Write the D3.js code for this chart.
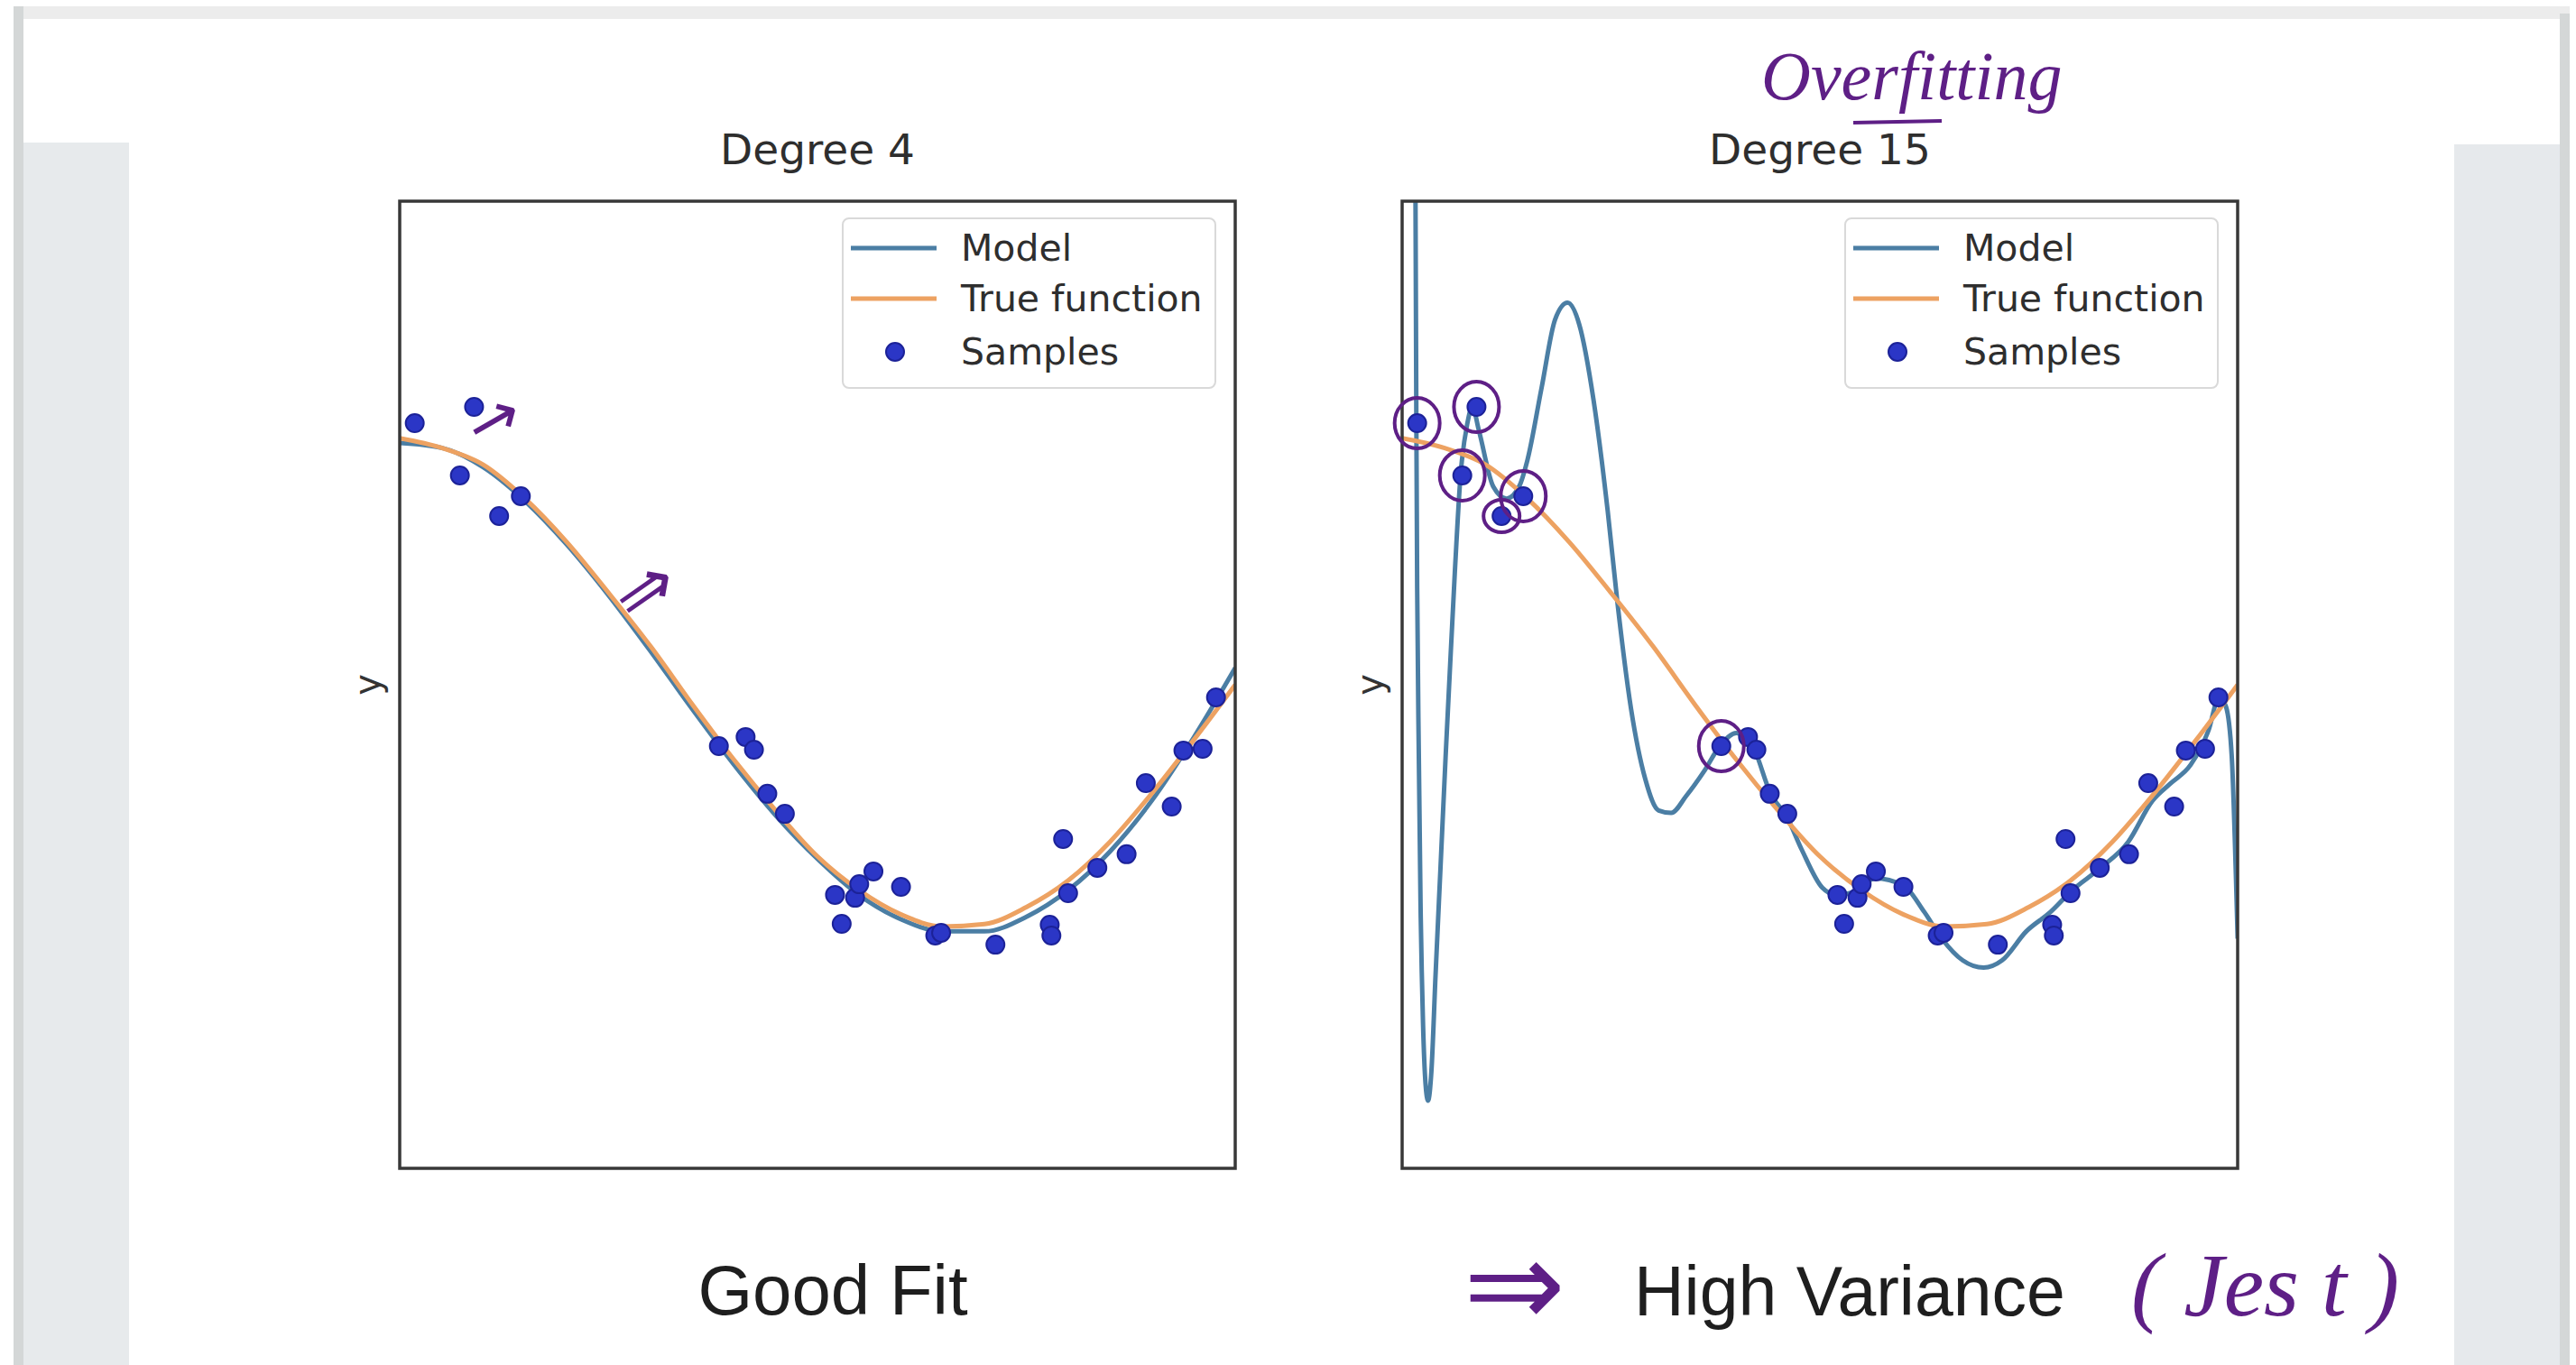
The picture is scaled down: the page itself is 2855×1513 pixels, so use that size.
<!DOCTYPE html>
<html>
<head>
<meta charset="utf-8">
<script src="https://cdn.jsdelivr.net/npm/d3@7"></script>
<style>
  body { margin: 0; background: #fff; }
  svg { display: block; }
</style>
</head>
<body>
<div id="chart"></div>
<script>
// samples (same 30 points in both panels)
var sampleX = [0.018, 0.072, 0.089, 0.119, 0.145, 0.382, 0.414, 0.424, 0.440, 0.461,
               0.521, 0.529, 0.545, 0.550, 0.567, 0.600, 0.641, 0.648, 0.713, 0.778,
               0.780, 0.794, 0.800, 0.835, 0.870, 0.893, 0.924, 0.938, 0.961, 0.977];
var sampleY = [1.082, 0.866, 1.149, 0.698, 0.780, -0.254, -0.216, -0.269, -0.451, -0.534,
               -0.869, -0.989, -0.881, -0.825, -0.772, -0.836, -1.037, -1.026, -1.075, -0.993,
               -1.037, -0.638, -0.862, -0.757, -0.701, -0.407, -0.504, -0.272, -0.265, -0.052];

// true function and degree 4 model, read every 0.05
var curveX = [0, 0.05, 0.1, 0.15, 0.2, 0.25, 0.3, 0.35, 0.4, 0.45, 0.5,
              0.55, 0.6, 0.65, 0.7, 0.75, 0.8, 0.85, 0.9, 0.95, 1.0];
var trueY = [1.02, 0.98, 0.91, 0.77, 0.59, 0.38, 0.16, -0.08, -0.31, -0.52, -0.71,
             -0.85, -0.95, -1.00, -0.99, -0.92, -0.81, -0.65, -0.45, -0.23, 0.00];
var deg4Y = [1.00, 0.98, 0.90, 0.76, 0.58, 0.37, 0.14, -0.10, -0.33, -0.54, -0.72,
             -0.87, -0.97, -1.02, -1.02, -0.96, -0.85, -0.69, -0.48, -0.22, 0.07];

// degree 15 model
var deg15X = [0.012, 0.016, 0.017, 0.018, 0.020, 0.022, 0.025, 0.028, 0.031, 0.035,
              0.040, 0.046, 0.052, 0.057, 0.063, 0.070, 0.078, 0.084, 0.092, 0.109,
              0.125, 0.140, 0.150, 0.167, 0.183, 0.198, 0.212, 0.229, 0.246, 0.258,
              0.274, 0.291, 0.307, 0.322, 0.340, 0.361, 0.381, 0.400, 0.419, 0.441,
              0.461, 0.478, 0.503, 0.520, 0.545, 0.566, 0.600, 0.625, 0.646, 0.671,
              0.696, 0.718, 0.747, 0.776, 0.802, 0.835, 0.869, 0.898, 0.919, 0.944,
              0.965, 0.978, 0.986, 0.993, 0.998, 1.0];
var deg15Y = [3.5, 2.0, 1.1, 0.4, -0.3, -0.9, -1.4, -1.65, -1.72, -1.6,
              -1.2, -0.75, -0.3, 0.05, 0.46, 0.87, 1.08, 1.15, 1.05, 0.82,
              0.77, 0.82, 0.93, 1.23, 1.51, 1.58, 1.49, 1.18, 0.72, 0.33,
              -0.10, -0.39, -0.52, -0.53, -0.46, -0.36, -0.25, -0.20, -0.25, -0.45,
              -0.55, -0.68, -0.84, -0.87, -0.85, -0.80, -0.83, -0.94, -1.05, -1.14,
              -1.17, -1.14, -1.02, -0.94, -0.85, -0.76, -0.65, -0.48, -0.41, -0.33,
              -0.19, -0.05, -0.09, -0.30, -0.80, -1.05];

var titles = ["Degree 4", "Degree 15"];
var captions = ["Good Fit", "High Variance"];
var legendLabels = ["Model", "True function", "Samples"];
var circled = [0, 1, 2, 3, 4, 5];   // samples ringed by hand in the right panel

var W = 2855, H = 1513;
var boxW = 926, boxH = 1072, boxTop = 223;
var boxLeft = [443, 1554];
var modelColor = "#4b7ea4", trueColor = "#eda262", dotColor = "#2b36c6", ink = "#5e1f86";

var svg = d3.select("#chart").append("svg")
    .attr("width", W)
    .attr("height", H);

// page background (slide screenshot)
svg.append("rect").attr("width", W).attr("height", H).attr("fill", "#fff");
svg.append("rect").attr("x", 15).attr("y", 7).attr("width", 2833).attr("height", 14).attr("fill", "#ececec");
svg.append("rect").attr("x", 15).attr("y", 7).attr("width", 11).attr("height", H).attr("fill", "#d4d7d7");
svg.append("rect").attr("x", 26).attr("y", 158).attr("width", 117).attr("height", H).attr("fill", "#e7eaec");
svg.append("rect").attr("x", 2720).attr("y", 160).attr("width", 117).attr("height", H).attr("fill", "#e6e9ec");
svg.append("rect").attr("x", 2837).attr("y", 15).attr("width", 11).attr("height", H).attr("fill", "#d4d7d7");

var x = d3.scaleLinear().domain([0, 1]).range([0, boxW]);
var y = d3.scaleLinear().domain([-2, 2]).range([boxH, 0]);

var line = d3.line()
    .x(function(d) { return x(d[0]); })
    .y(function(d) { return y(d[1]); })
    .curve(d3.curveMonotoneX);

var samples = sampleX.map(function(v, i) { return [v, sampleY[i]]; });
var trueData = curveX.map(function(v, i) { return [v, trueY[i]]; });
var models = [
  curveX.map(function(v, i) { return [v, deg4Y[i]]; }),
  deg15X.map(function(v, i) { return [v, deg15Y[i]]; })
];

[0, 1].forEach(function(p) {
  var g = svg.append("g")
      .attr("transform", "translate(" + boxLeft[p] + "," + boxTop + ")");

  g.append("clipPath").attr("id", "clip" + p)
    .append("rect").attr("width", boxW).attr("height", boxH);

  var plot = g.append("g").attr("clip-path", "url(#clip" + p + ")");

  plot.append("path")
      .datum(models[p])
      .attr("fill", "none")
      .attr("stroke", modelColor)
      .attr("stroke-width", 5)
      .attr("stroke-linejoin", "round")
      .attr("d", line);

  plot.append("path")
      .datum(trueData)
      .attr("fill", "none")
      .attr("stroke", trueColor)
      .attr("stroke-width", 5)
      .attr("stroke-linejoin", "round")
      .attr("d", line);

  plot.selectAll("circle.sample")
      .data(samples)
    .enter().append("circle")
      .attr("class", "sample")
      .attr("cx", function(d) { return x(d[0]); })
      .attr("cy", function(d) { return y(d[1]); })
      .attr("r", 10)
      .attr("fill", dotColor)
      .attr("stroke", "#1c2298")
      .attr("stroke-width", 2);

  // frame
  g.append("rect")
      .attr("width", boxW)
      .attr("height", boxH)
      .attr("fill", "none")
      .attr("stroke", "#383838")
      .attr("stroke-width", 3.5);

  g.append("text")
      .attr("x", boxW / 2)
      .attr("y", -41)
      .attr("text-anchor", "middle")
      .style("font-family", "DejaVu Sans")
      .style("font-size", "47px")
      .attr("fill", "#2e2e2e")
      .text(titles[p]);

  g.append("text")
      .attr("transform", "translate(-22," + (boxH / 2) + ") rotate(-90)")
      .attr("text-anchor", "middle")
      .style("font-family", "DejaVu Sans")
      .style("font-size", "40px")
      .attr("fill", "#333")
      .text("y");

  // legend
  var lg = g.append("g").attr("transform", "translate(491,19)");
  lg.append("rect")
      .attr("width", 413).attr("height", 188).attr("rx", 7)
      .attr("fill", "#fff").attr("fill-opacity", 0.9)
      .attr("stroke", "#d9d9d9").attr("stroke-width", 2);
  var rowY = [33, 89, 148];
  legendLabels.forEach(function(lab, i) {
    if (i < 2) {
      lg.append("line")
          .attr("x1", 9).attr("x2", 104)
          .attr("y1", rowY[i]).attr("y2", rowY[i])
          .attr("stroke", i === 0 ? modelColor : trueColor)
          .attr("stroke-width", 5);
    } else {
      lg.append("circle")
          .attr("cx", 58).attr("cy", rowY[i]).attr("r", 10)
          .attr("fill", dotColor).attr("stroke", "#1c2298").attr("stroke-width", 2);
    }
    lg.append("text")
        .attr("x", 131).attr("y", rowY[i] + 14)
        .style("font-family", "DejaVu Sans")
        .style("font-size", "41px")
        .attr("fill", "#2e2e2e")
        .text(lab);
  });

  // hand-drawn annotations
  if (p === 1) {
    g.selectAll("ellipse.ring")
        .data(circled)
      .enter().append("ellipse")
        .attr("class", "ring")
        .attr("cx", function(i) { return x(sampleX[i]); })
        .attr("cy", function(i) { return y(sampleY[i]); })
        .attr("rx", function(i) { return i === 3 ? 20 : 25; })
        .attr("ry", function(i) { return i === 3 ? 18 : 28; })
        .attr("fill", "none")
        .attr("stroke", ink)
        .attr("stroke-width", 4);
  } else {
    g.append("text")
        .attr("transform", "translate(" + x(0.125) + "," + y(1.02) + ") rotate(-30)")
        .attr("text-anchor", "middle")
        .style("font-family", "DejaVu Sans")
        .style("font-size", "70px")
        .attr("fill", ink)
        .text("\u2192");
    g.append("text")
        .attr("transform", "translate(" + x(0.31) + "," + y(0.31) + ") rotate(-35)")
        .attr("text-anchor", "middle")
        .style("font-family", "DejaVu Sans")
        .style("font-size", "80px")
        .attr("fill", ink)
        .text("\u21D2");
  }
});

// captions under the panels
svg.append("text")
    .attr("x", 923).attr("y", 1457)
    .attr("text-anchor", "middle")
    .style("font-family", "Liberation Sans")
    .style("font-size", "78px")
    .attr("fill", "#1e1e1e")
    .text(captions[0]);

svg.append("text")
    .attr("x", 1811).attr("y", 1458)
    .style("font-family", "Liberation Sans")
    .style("font-size", "77px")
    .attr("fill", "#1e1e1e")
    .text(captions[1]);

// handwriting
svg.append("text")
    .attr("x", 1622).attr("y", 1470)
    .style("font-family", "DejaVu Sans")
    .style("font-size", "135px")
    .attr("fill", ink)
    .text("\u21D2");

svg.append("text")
    .attr("x", 2362).attr("y", 1458)
    .style("font-family", "Liberation Serif")
    .style("font-style", "italic")
    .style("font-size", "100px")
    .attr("fill", ink)
    .text("( Jes t )");

svg.append("text")
    .attr("x", 1952).attr("y", 110)
    .style("font-family", "Liberation Serif")
    .style("font-style", "italic")
    .style("font-size", "76px")
    .attr("fill", ink)
    .text("Overfitting");

svg.append("line")
    .attr("x1", 2054).attr("x2", 2152)
    .attr("y1", 136).attr("y2", 134)
    .attr("stroke", ink)
    .attr("stroke-width", 4);
</script>
</body>
</html>
